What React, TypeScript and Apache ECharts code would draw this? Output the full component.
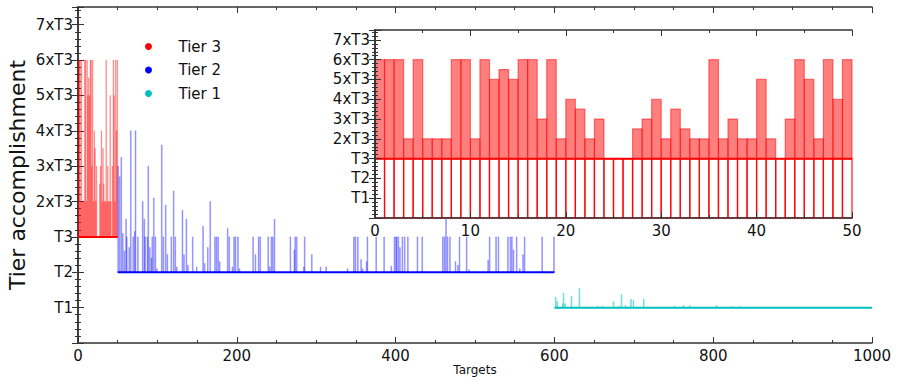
import React, { useEffect, useRef } from "react";
import * as echarts from "echarts";

// Tier labels on the y axes (index = axis value)
const yTickLabels = ["", "T1", "T2", "T3", "2xT3", "3xT3", "4xT3", "5xT3", "6xT3", "7xT3"];

// Tier 3: targets 0..49, accomplishment value (3 = T3 ... 8 = 6xT3)
const tier3Values = [
  8, 8, 8, 4, 8, 4, 4, 4, 8, 8,
  4, 8, 7, 7.5, 7, 8, 8, 5, 8, 4,
  6, 5.5, 4, 5, 3, 3, 3, 4.5, 5, 6,
  4, 5.5, 4.5, 4, 4, 8, 4, 5, 4, 4,
  7, 4, 3, 5, 8, 7, 4, 8, 6, 8,
];

// Tier 2: targets 50..599 (only those above the T2 baseline)
const tier2Targets = [
  50, 52, 54, 56, 58, 60, 61, 64, 66, 69,
  71, 72, 75, 81, 83, 84, 87, 88, 90, 92,
  93, 95, 97, 99, 105, 107, 110, 112, 117, 120,
  122, 124, 131, 133, 136, 138, 144, 149, 157, 159,
  163, 166, 172, 174, 176, 178, 188, 190, 194, 196,
  198, 201, 203, 220, 223, 227, 229, 239, 241, 243,
  245, 247, 267, 272, 273, 275, 284, 285, 294, 305,
  312, 339, 347, 349, 352, 356, 358, 363, 364, 375,
  385, 394, 398, 400, 401, 403, 405, 408, 411, 415,
  427, 433, 438, 459, 461, 463, 465, 468, 475, 478,
  480, 489, 492, 516, 518, 526, 529, 541, 544, 546,
  548, 552, 556, 560, 562, 584, 599,
];
const tier2Values = [
  5, 4.7, 5.25, 3.1, 2.6, 3.5, 3, 2.7, 6, 3,
  3.15, 6, 3, 4, 3.5, 3, 3, 5, 2.7, 2.4,
  3, 4.1, 3, 2.1, 5.6, 3, 3.9, 2.5, 3, 4.3,
  3, 2.15, 3.75, 2.5, 3.5, 2.2, 3, 2.15, 3.3, 2.25,
  2.7, 4, 3, 3, 3, 2.3, 3.24, 3, 2.15, 3,
  3, 3, 2.1, 3, 2.5, 3, 3, 3, 2.15, 3,
  3, 3.5, 3, 2.63, 3, 3, 2.15, 3, 2.5, 2.15,
  2.15, 2.1, 3, 3, 3, 2.36, 2.1, 2.3, 3, 3,
  3, 2.17, 3, 3, 3, 3, 2.7, 3, 3, 3,
  3, 3, 2.02, 3, 3, 3.5, 3, 3, 2.3, 2.2,
  3, 3, 2.07, 2.34, 3, 3, 3, 3, 3, 3,
  2.63, 3, 2.1, 2.5, 3, 3, 3,
];

// Tier 1: targets 600..999 (only those above the T1 baseline)
const tier1Targets = [601, 603, 610, 611, 613, 621, 631, 645, 654, 660, 674, 681, 684, 689, 696, 699, 712, 730, 751, 762, 770, 804, 824, 833];
const tier1Values = [1.3, 1.18, 1.11, 1.41, 1.11, 1.32, 1.54, 1.02, 1.04, 1.04, 1.17, 1.04, 1.37, 1.06, 1.24, 1.2, 1.24, 1.02, 1.04, 1.06, 1.06, 1.06, 1.03, 1.03];

const FONT = "DejaVu Sans";
const AX = "#333";

function barRenderer(base: number, fill: string, stroke: string, lw: number) {
  return (params: any, api: any) => {
    const t = api.value(0);
    const v = api.value(1);
    const p0 = api.coord([t, base]);
    const p1 = api.coord([t + 1, v]);
    return {
      type: "rect",
      shape: { x: p0[0], y: p1[1], width: p1[0] - p0[0], height: p0[1] - p1[1] },
      style: { fill, stroke, lineWidth: lw },
    };
  };
}

export default function App() {
  const ref = useRef<HTMLDivElement>(null);
  useEffect(() => {
    if (!ref.current) return;
    const chart = echarts.init(ref.current, undefined, { renderer: "svg" });

    const tier3Data = tier3Values.map((v, i) => [i, v]);
    const tier2Data = tier2Targets.map((t, i) => [t, tier2Values[i]]);
    const tier1Data = tier1Targets.map((t, i) => [t, tier1Values[i]]);

    const yLabel = (v: number) => (Number.isInteger(v) ? yTickLabels[v] ?? "" : "");

    const yAxisBase = (grid: number, pos: string, showLabel: boolean, z: number) => ({
      type: "value",
      gridIndex: grid,
      position: pos,
      min: 0,
      max: 9.5,
      interval: 1,
      z,
      splitLine: { show: false },
      axisLine: { show: true, lineStyle: { color: AX, width: 1.5 } },
      axisTick: { show: true, inside: true, length: 6, lineStyle: { color: AX } },
      minorTick: { show: true, splitNumber: 5, length: 3, lineStyle: { color: AX } },
      axisLabel: {
        show: showLabel,
        formatter: yLabel,
        fontSize: 15,
        color: "#111",
        fontFamily: FONT,
        margin: 5,
        showMaxLabel: false,
      },
    });

    const xAxisBase = (grid: number, pos: string, showLabel: boolean, max: number, interval: number, minorSplit: number, z: number) => ({
      type: "value",
      gridIndex: grid,
      position: pos,
      min: 0,
      max,
      interval,
      z,
      splitLine: { show: false },
      axisLine: { show: true, onZero: false, lineStyle: { color: AX, width: 1.5 } },
      axisTick: { show: true, inside: true, length: 6, lineStyle: { color: AX } },
      minorTick: { show: true, splitNumber: minorSplit, length: 3, lineStyle: { color: AX } },
      axisLabel: {
        show: showLabel,
        fontSize: 15,
        color: "#111",
        fontFamily: FONT,
        margin: 5,
        formatter: (v: number) => String(v),
      },
    });

    const mainX: any = xAxisBase(0, "bottom", true, 1000, 200, 4, 0);
    mainX.name = "Targets";
    mainX.nameLocation = "middle";
    mainX.nameGap = 21;
    mainX.nameMoveOverlap = false;
    mainX.nameTextStyle = { fontSize: 12, color: "#111", fontFamily: FONT };

    const mainY: any = yAxisBase(0, "left", true, 0);
    mainY.name = "Tier accomplishment";
    mainY.nameLocation = "middle";
    mainY.nameRotate = 90;
    mainY.nameGap = 50;
    mainY.nameMoveOverlap = false;
    mainY.nameTextStyle = { fontSize: 22, color: "#111", fontFamily: FONT };

    const option: any = {
      animation: false,
      textStyle: { fontFamily: FONT },
      grid: [
        { left: 78, top: 7, right: 26, bottom: 39, show: false, outerBoundsMode: "none", containLabel: false },
        {
          left: 375, top: 30, right: 46, bottom: 164, show: true, backgroundColor: "#ffffff", borderWidth: 0, z: 10,
          outerBoundsMode: "none", containLabel: false,
        },
      ],
      legend: {
        orient: "vertical",
        left: 140,
        top: 34,
        icon: "circle",
        itemWidth: 48,
        itemHeight: 7,
        itemGap: 8.5,
        textStyle: { fontSize: 15, color: "#111", fontFamily: FONT, padding: [0, 0, 0, 1] },
        data: ["Tier 3", "Tier 2", "Tier 1"],
      },
      xAxis: [
        mainX,
        xAxisBase(0, "top", false, 1000, 200, 4, 0),
        xAxisBase(1, "bottom", true, 50, 10, 2, 13),
        xAxisBase(1, "top", false, 50, 10, 2, 13),
      ],
      yAxis: [
        mainY,
        yAxisBase(0, "right", false, 0),
        yAxisBase(1, "left", true, 13),
        yAxisBase(1, "right", false, 13),
      ],
      series: [
        {
          type: "custom",
          name: "t3bars",
          xAxisIndex: 0,
          yAxisIndex: 0,
          encode: { x: 0, y: 1 },
          data: tier3Data,
          renderItem: barRenderer(3, "rgba(255,0,0,0.45)", "rgba(255,0,0,0.25)", 0.6),
          z: 2,
        },
        {
          type: "custom",
          name: "t2bars",
          xAxisIndex: 0,
          yAxisIndex: 0,
          encode: { x: 0, y: 1 },
          data: tier2Data,
          renderItem: barRenderer(2, "rgba(0,0,255,0.25)", "rgba(0,0,255,0.25)", 1),
          z: 2,
        },
        {
          type: "custom",
          name: "t1bars",
          xAxisIndex: 0,
          yAxisIndex: 0,
          encode: { x: 0, y: 1 },
          data: tier1Data,
          renderItem: barRenderer(1, "rgba(0,191,191,0.35)", "rgba(0,191,191,0.35)", 1),
          z: 2,
        },
        {
          type: "line",
          name: "Tier 3",
          xAxisIndex: 0,
          yAxisIndex: 0,
          data: [[0, 3], [50, 3]],
          symbol: "none",
          color: "#ff0000",
          lineStyle: { color: "#ff0000", width: 2 },
          z: 3,
        },
        {
          type: "line",
          name: "Tier 2",
          xAxisIndex: 0,
          yAxisIndex: 0,
          data: [[50, 2], [600, 2]],
          symbol: "none",
          color: "#0000ff",
          lineStyle: { color: "#0000ff", width: 2 },
          z: 3,
        },
        {
          type: "line",
          name: "Tier 1",
          xAxisIndex: 0,
          yAxisIndex: 0,
          data: [[600, 1], [1000, 1]],
          symbol: "none",
          color: "#00bfbf",
          lineStyle: { color: "#00bfbf", width: 2 },
          z: 3,
        },
        // inset: outline bars from 0 to T3
        {
          type: "custom",
          name: "insetBase",
          xAxisIndex: 2,
          yAxisIndex: 2,
          encode: { x: 0, y: 1 },
          data: tier3Data,
          renderItem: (params: any, api: any) => {
            const t = api.value(0);
            const p0 = api.coord([t, 0]);
            const p1 = api.coord([t + 1, 3]);
            return {
              type: "rect",
              shape: { x: p0[0], y: p1[1], width: p1[0] - p0[0], height: p0[1] - p1[1] },
              style: { fill: "none", stroke: "rgba(255,0,0,0.85)", lineWidth: 1.3 },
            };
          },
          z: 12,
        },
        {
          type: "custom",
          name: "insetBars",
          xAxisIndex: 2,
          yAxisIndex: 2,
          encode: { x: 0, y: 1 },
          data: tier3Data,
          renderItem: barRenderer(3, "rgba(255,0,0,0.5)", "rgba(255,0,0,0.5)", 1.2),
          z: 12,
        },
        {
          type: "line",
          name: "insetLine",
          xAxisIndex: 2,
          yAxisIndex: 2,
          data: [[0, 3], [50, 3]],
          symbol: "none",
          lineStyle: { color: "#ff0000", width: 2 },
          z: 12,
        },
      ],
    };
    chart.setOption(option);
    return () => chart.dispose();
  }, []);
  return <div ref={ref} style={{ width: 898, height: 382, position: "absolute", left: 0, top: 0 }} />;
}
